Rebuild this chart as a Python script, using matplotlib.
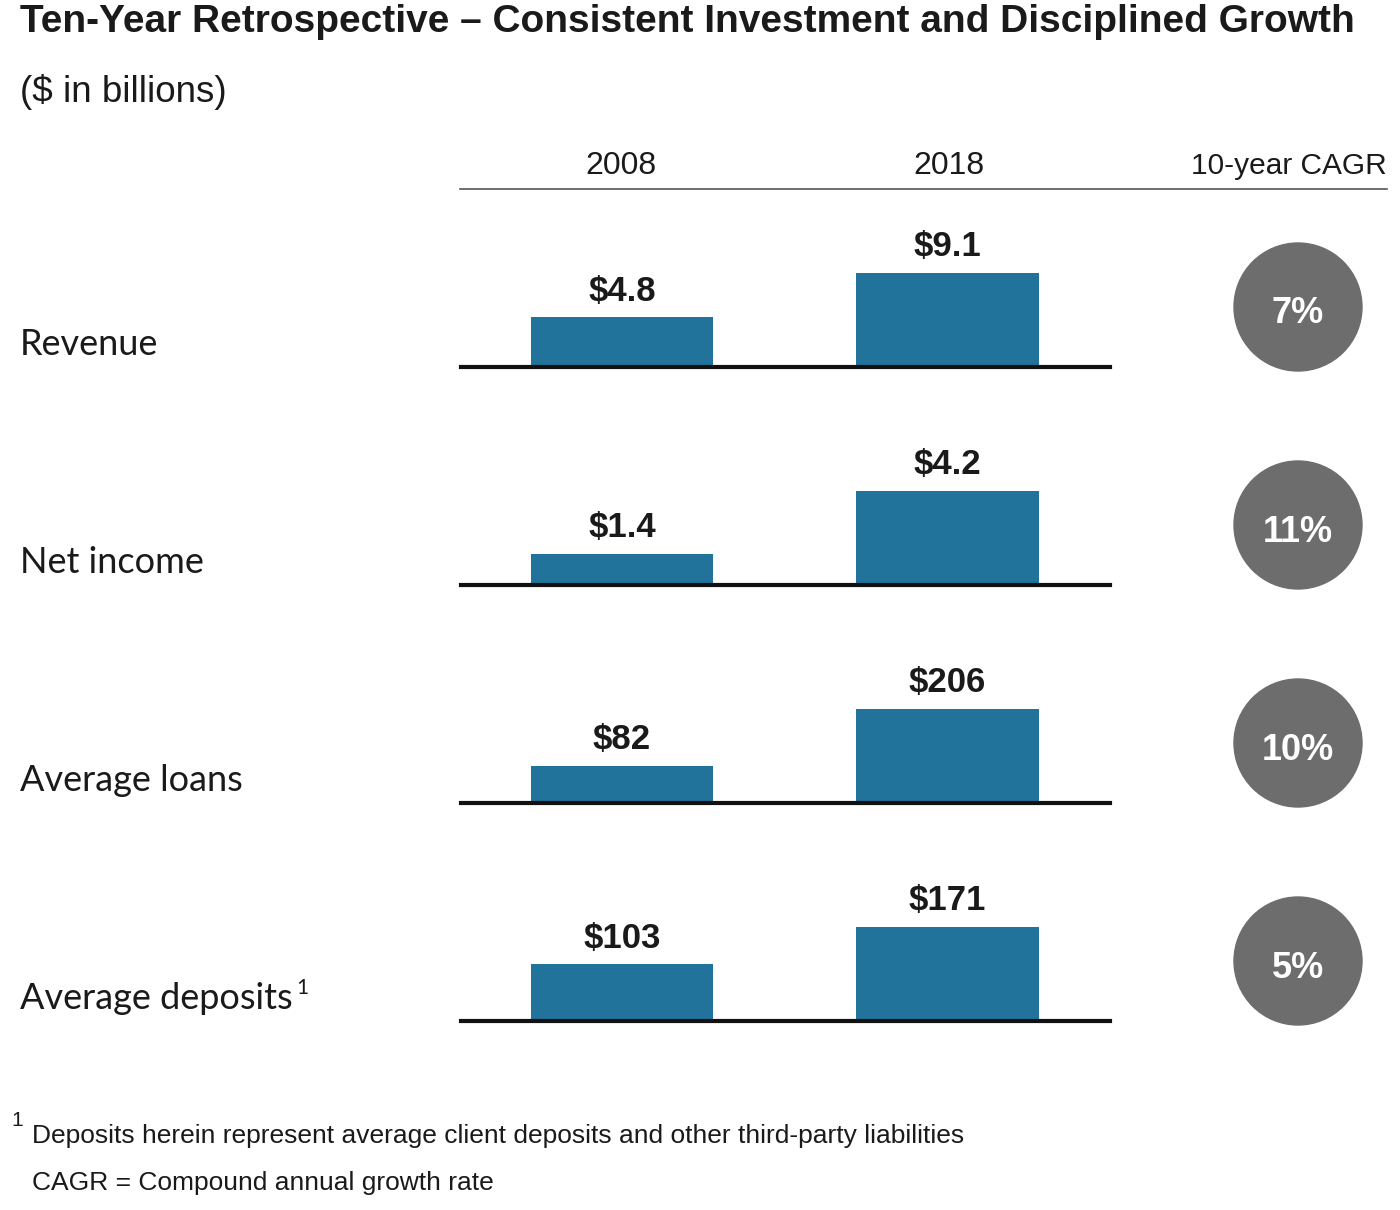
import matplotlib
matplotlib.use('Agg')
import matplotlib.pyplot as plt
from matplotlib import font_manager
from matplotlib.patches import Ellipse

# Data
metrics = ['Revenue', 'Net income', 'Average loans', 'Average deposits']
years = ['2008', '2018']
values_2008 = [4.8, 1.4, 82, 103]
values_2018 = [9.1, 4.2, 206, 171]
labels_2008 = ['$4.8', '$1.4', '$82', '$103']
labels_2018 = ['$9.1', '$4.2', '$206', '$171']
cagr = ['7%', '11%', '10%', '5%']

BAR_COLOR = '#21739c'
CIRCLE_COLOR = '#6d6d6d'
TEXT_COLOR = '#1a1a1a'

available = {f.name for f in font_manager.fontManager.ttflist}
narrow = 'Liberation Sans Narrow' if 'Liberation Sans Narrow' in available else 'Liberation Sans'
regular = 'Lato' if 'Lato' in available else 'DejaVu Sans'

W, H = 1400, 1210
fig = plt.figure(figsize=(W / 100, H / 100), dpi=100)
fig.patch.set_facecolor('white')


def fx(px):
    return px / W


def fy(py):
    return 1 - py / H


# Title and subtitle
fig.text(fx(20), fy(32), 'Ten-Year Retrospective \u2013 Consistent Investment and Disciplined Growth',
         fontsize=28, fontweight='bold', family=narrow, color=TEXT_COLOR, va='baseline', ha='left')
fig.text(fx(20), fy(102), '($ in billions)', fontsize=26.5, family=narrow, color=TEXT_COLOR,
         va='baseline', ha='left')

# Column headers
fig.text(fx(621), fy(174), years[0], fontsize=23, family=narrow, color=TEXT_COLOR, ha='center', va='baseline')
fig.text(fx(949), fy(174), years[1], fontsize=23, family=narrow, color=TEXT_COLOR, ha='center', va='baseline')
fig.text(fx(1387), fy(174), '10-year CAGR', fontsize=21.5, family=narrow, color=TEXT_COLOR, ha='right', va='baseline')
fig.add_artist(plt.Line2D([fx(460), fx(1387)], [fy(189), fy(189)], color='#555555', lw=1.2))

# One axis per metric row
row_base = [367, 585, 803, 1021]
ax_h = 160  # px
for i, m in enumerate(metrics):
    base = row_base[i]
    ax = fig.add_axes([fx(461), fy(base), fx(1110) - fx(461), ax_h / H])
    ax.set_axis_off()
    vmax = max(values_2008[i], values_2018[i])
    ax.set_ylim(0, vmax * ax_h / 94)
    ax.set_xlim(-0.4946, 1.4992)
    bars = ax.bar([0, 1], [values_2008[i], values_2018[i]], width=0.56, color=BAR_COLOR)
    ax.axhline(0, color='#111111', lw=3, clip_on=False, zorder=3)
    for b, lab in zip(bars, [labels_2008[i], labels_2018[i]]):
        ax.annotate(lab, (b.get_x() + b.get_width() / 2, b.get_height()),
                    xytext=(0, 7), textcoords='offset points', ha='center', va='bottom',
                    fontsize=25, fontweight='bold', family=narrow, color=TEXT_COLOR)

    # row label
    fig.text(fx(20), fy(base - 12), m, fontsize=26, family=regular, color=TEXT_COLOR,
             ha='left', va='baseline')

    # CAGR circle
    cy = base - 60
    fig.add_artist(Ellipse((fx(1298), fy(cy)), 128 / W, 128 / H, color=CIRCLE_COLOR))
    fig.text(fx(1298), fy(cy + 7), cagr[i], fontsize=26, fontweight='bold', family=narrow,
             color='white', ha='center', va='center')

# superscript on deposits label
fig.text(fx(296), fy(994), '1', fontsize=15, family=regular, color=TEXT_COLOR, ha='left', va='baseline')

# Footnotes
fig.text(fx(11), fy(1126), '1', fontsize=15, family=narrow, color=TEXT_COLOR, ha='left', va='baseline')
fig.text(fx(32), fy(1143), 'Deposits herein represent average client deposits and other third-party liabilities',
         fontsize=19, family=narrow, color=TEXT_COLOR, ha='left', va='baseline')
fig.text(fx(32), fy(1190), 'CAGR = Compound annual growth rate',
         fontsize=19, family=narrow, color=TEXT_COLOR, ha='left', va='baseline')

fig.savefig('out.png', dpi=100, facecolor='white')
